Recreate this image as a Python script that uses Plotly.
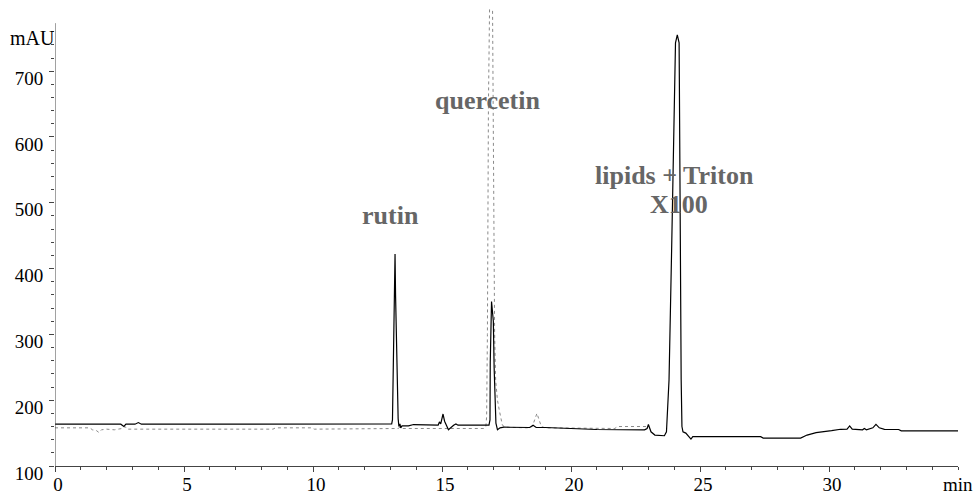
import plotly.graph_objects as go

# ---- data (retention time in min, absorbance in mAU) ----
sample_t = [0, 2.55, 2.67, 2.75, 3.1, 3.23, 3.35, 12.95, 13.05, 13.08, 13.11, 13.13, 13.18, 13.20,
            13.23, 13.26, 13.28, 13.30, 13.33, 13.37, 13.40, 13.45, 13.7, 13.9, 14.85, 14.9, 14.95,
            15.0, 15.04, 15.1, 15.18, 15.25, 15.45, 15.54, 15.62, 16.7, 16.82, 16.86, 16.87, 16.92,
            16.95, 16.99, 17.02, 17.05, 17.09, 17.15, 17.25, 17.4, 18.4, 18.53, 18.65, 19.0, 21.0,
            22.85, 22.95, 23.0, 23.1, 23.25, 23.5, 23.62, 23.70, 23.76, 23.80, 23.90, 23.97, 24.00,
            24.05, 24.12, 24.19, 24.20, 24.21, 24.25, 24.27, 24.30, 24.34, 24.45, 24.55, 24.65, 24.72,
            27.35, 27.45, 28.9, 29.15, 29.5, 30.1, 30.45, 30.7, 30.8, 30.9, 31.3, 31.37, 31.45, 31.7,
            31.82, 31.95, 32.15, 32.7, 32.8, 35.0]
sample_v = [163.5, 163.5, 160, 163.5, 163.5, 166, 163.5, 163.5, 164, 170, 260, 327, 422, 360,
            300, 230, 196, 172, 160, 164, 158, 161, 161, 163, 162, 167, 164,
            175, 179, 168, 162, 155, 162, 164, 162, 161, 162, 170, 257, 350,
            340, 320, 250, 190, 165, 155, 158, 159, 158.5, 162, 158.5, 158.5, 155.5,
            155, 157, 163, 152, 147, 146, 146, 152, 190, 231, 428, 576, 687,
            743, 755, 743, 687, 576, 428, 231, 160, 152, 150, 146, 141, 144.5,
            144.5, 142.5, 142.5, 147, 150.7, 153.7, 155.8, 156, 160.8, 156, 155, 157, 155, 158,
            163.4, 158, 155.8, 155.5, 153.5, 153.5]

standard_t = [0, 1.35, 1.45, 1.6, 1.7, 1.8, 2.0, 2.3, 2.6, 2.72, 2.78, 2.85, 8.45, 8.55, 9.95,
              10.05, 13.3, 13.37, 13.45, 16.62, 16.70, 16.73, 16.76, 16.80, 16.83, 16.89, 16.95,
              16.98, 17.01, 17.04, 17.08, 17.15, 17.22, 17.28, 17.34, 17.45, 18.3, 18.5, 18.68,
              18.85, 19.0, 21.7, 21.8, 22.95]
standard_v = [158, 158, 155, 154, 151, 155, 156, 155, 157, 160, 156, 156, 156, 158, 158,
              156, 157, 159, 157, 157, 160, 175, 300, 650, 850, 950, 850,
              650, 450, 300, 230, 200, 185, 170, 162, 159, 158, 160, 180,
              160, 158, 157, 160, 160]

y_major = [100, 200, 300, 400, 500, 600, 700]
y_minor = list(range(100, 761, 20))
x_major = [0, 5, 10, 15, 20, 25, 30]

peak_labels = [
    dict(text="rutin", t=13.02, v=480),
    dict(text="quercetin", t=16.76, v=655),
    dict(text="lipids + Triton", t=24.01, v=542),
    dict(text="X100", t=24.19, v=497),
]

serif = "Liberation Serif, Times New Roman, serif"

fig = go.Figure()
fig.add_trace(go.Scatter(x=standard_t, y=standard_v, mode="lines",
                         line=dict(color="#8a8a8a", width=1, dash="dot"),
                         showlegend=False, hoverinfo="skip"))
fig.add_trace(go.Scatter(x=sample_t, y=sample_v, mode="lines",
                         line=dict(color="#000000", width=1.2),
                         showlegend=False, hoverinfo="skip"))

for lab in peak_labels:
    fig.add_annotation(x=lab["t"], y=lab["v"], xref="x", yref="y", text=lab["text"],
                       showarrow=False, xanchor="center", yanchor="middle",
                       font=dict(family=serif, size=26, color="#666666", weight="bold"))

fig.add_annotation(x=0.002, y=0.934, xref="paper", yref="paper", text="mAU", showarrow=False,
                   xanchor="right", yanchor="middle", font=dict(family=serif, size=20, color="#000"))
fig.add_annotation(x=1.0, y=-0.04, xref="paper", yref="paper", text="min", showarrow=False,
                   xanchor="center", yanchor="middle", font=dict(family=serif, size=19, color="#000"))

# y axis line only up to its top
fig.add_shape(type="line", xref="x", yref="y", x0=0, x1=0, y0=100, y1=773,
              line=dict(color="#444444", width=1))

fig.update_layout(
    width=977, height=497,
    margin=dict(l=55, r=19, t=8, b=31),
    paper_bgcolor="white", plot_bgcolor="white",
    xaxis=dict(range=[0, 35], tickvals=x_major, ticks="outside", ticklen=5, tickcolor="#444",
               showline=True, linecolor="#444", linewidth=1, showgrid=False, zeroline=False,
               automargin=False,
               tickfont=dict(family=serif, size=19, color="#000"), ticklabelshift=3,
               ticklabelstandoff=-4,
               minor=dict(dtick=1, tick0=0, ticks="outside", ticklen=3, tickcolor="#444", showgrid=False)),
    yaxis=dict(range=[100, 796], tickvals=y_major, ticks="outside", ticklen=5, tickcolor="#444",
               showline=False, showgrid=False, zeroline=False, automargin=False,
               tickfont=dict(family=serif, size=19, color="#000"), ticklabelshift=7,
               ticklabelstandoff=2,
               minor=dict(tickvals=y_minor, ticks="outside", ticklen=3, tickcolor="#444", showgrid=False)),
)

fig.write_html("out.html", config={"displayModeBar": False},
               post_script="document.body.style.margin='0';")
